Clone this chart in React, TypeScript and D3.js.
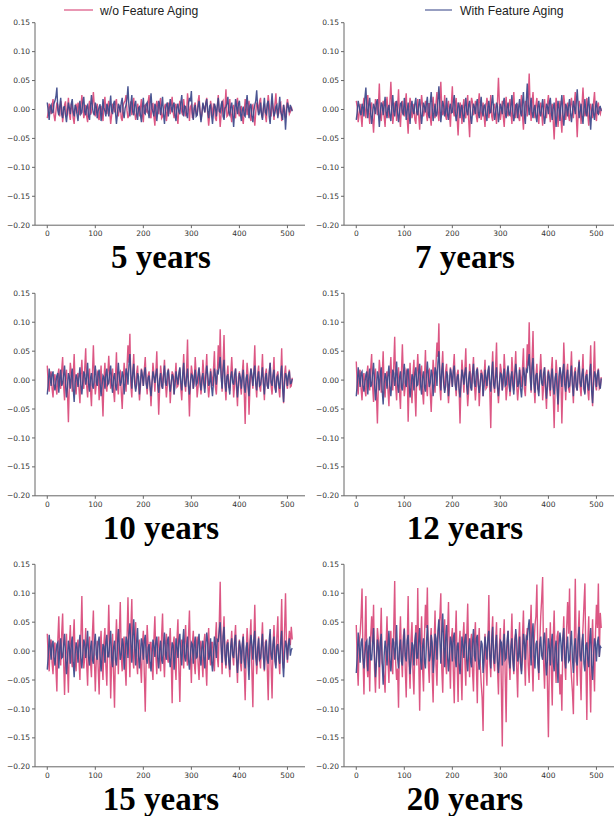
import React from 'react';
import * as d3 from 'd3';

// sample spacing along the x axis (every 2nd step of 0..511)
const STEP = 2;

// values are in thousandths
const noAging5 = [
  -15,-4,10,2,-8,6,18,-10,-20,-3,12,8,-5,-12,15,4,-22,-6,8,14,-12,-2,20,-8,-18,10,5,-15,-25,0,10,-7,
  12,5,-10,3,25,8,-15,-6,8,-12,-22,2,15,-9,-5,10,30,6,-12,-2,10,-14,-18,4,5,-8,-20,9,22,-3,-8,6,
  15,-4,-25,-10,10,5,-5,12,18,-6,-12,3,8,-15,-20,7,12,15,25,-2,-15,-9,5,14,-10,6,20,-5,-18,-8,10,2,
  -12,4,18,-7,-22,6,8,-3,-5,14,25,-10,-15,9,10,-12,-28,2,15,5,-8,12,20,-15,-12,-4,5,10,-20,-6,12,3,
  -8,9,22,-5,-15,6,10,-12,-25,3,15,8,-5,-10,18,2,-12,-4,28,10,-20,5,8,-14,-15,7,12,-6,-10,14,25,-3,
  -18,-6,10,4,-5,12,20,-8,-28,-10,15,3,-12,9,8,-15,-20,6,25,-4,-30,-8,12,15,-15,5,35,-12,-10,2,18,-9,
  -22,3,8,-10,-15,12,20,-6,-12,4,5,-14,-25,-4,18,9,-10,2,15,-12,-20,6,8,-10,-28,-5,12,8,-5,14,20,-7,
  -15,2,10,-9,-22,5,25,8,-8,-12,15,3,-18,10,28,-4,-12,-6,10,12,-20,-3,8,-10,-15,4,18,6,-8,-4,5,-2
];
const withAging5 = [
  12,-3,-18,5,8,-6,-5,10,15,22,38,-2,-10,6,20,-8,-15,4,5,-10,-22,-5,12,3,-8,10,18,-4,-12,8,3,-9,
  -20,2,15,-8,-5,12,22,-4,-10,5,8,-12,-18,6,25,3,-6,-10,12,4,-15,-3,5,9,-20,-7,18,2,-3,-12,10,5,
  -12,6,24,-3,-8,10,15,-5,-25,-8,10,4,-5,12,20,-6,-15,2,8,18,40,5,-12,10,25,-4,-10,8,15,-7,-18,3,
  5,-10,-22,4,20,-6,-8,9,12,-3,-15,10,28,2,-5,-12,10,5,-20,-4,15,8,-10,6,22,-8,-25,-2,8,12,-12,4,
  18,3,-5,8,12,-10,-20,4,10,-4,-8,12,25,-3,-12,6,5,-9,-15,10,20,14,32,-6,-18,2,8,-12,-10,5,15,-4,
  -22,-8,12,3,-5,10,18,-2,-15,6,8,-10,-25,-5,10,4,-12,6,20,-3,-5,8,15,-12,-18,2,5,10,22,-6,-10,4,
  12,-8,-30,-4,18,5,-8,10,15,-6,-20,-2,5,-10,-12,8,25,3,-15,6,10,-12,-22,-3,8,15,33,4,-10,-5,12,-8,
  -18,4,20,-5,-8,10,15,-12,-25,6,28,2,-12,-6,5,8,-15,3,22,-4,-10,-18,8,-2,-35,-6,12,4,-5,8,2,-3
];

const noAging7 = [
  15,4,-22,-8,10,-12,-30,6,20,2,-15,10,25,-5,-25,8,12,-15,-40,-6,18,12,-10,5,45,-8,-20,3,15,-12,-30,6,
  22,-4,-15,12,48,5,-25,-8,10,14,-20,3,35,-10,-30,6,15,-5,-12,10,28,-15,-42,2,20,8,-15,-6,10,-18,-25,4,
  18,-10,-35,2,25,8,-12,-4,15,-8,-20,10,10,-14,-28,5,22,-3,-15,12,30,-6,-20,15,48,4,-10,-5,25,-12,-18,6,
  15,-8,-30,10,40,-4,-12,8,20,-15,-45,-5,12,6,-25,3,18,-10,-15,10,25,-18,-48,2,20,12,-10,-4,15,-12,-22,8,
  28,5,-18,-6,12,-10,-30,4,20,8,-15,-2,25,-12,-20,6,10,-8,-25,14,55,10,-18,-5,15,-12,-30,3,22,-6,-12,8,
  18,-5,-25,10,30,-8,-15,4,10,-14,-20,6,25,-10,-35,-3,15,8,-12,20,62,5,-20,12,30,-6,-15,8,20,-10,-25,5,
  12,-6,-28,4,18,-8,-15,10,25,-5,-22,3,10,-20,-52,-8,20,6,-30,-10,15,-15,-40,2,25,8,-18,-4,12,-12,-20,6,
  20,3,-15,10,30,-10,-48,-5,15,6,-25,8,38,2,-12,-6,20,-10,-28,4,10,-8,-15,12,30,-5,-20,6,12,-4,-8,2
];
const withAging7 = [
  -18,-4,15,6,-5,-10,10,4,-12,20,38,2,-15,8,20,-6,-25,-8,10,3,-8,12,18,-5,-30,-4,12,8,-10,5,22,-3,
  -15,2,8,-10,-20,5,25,-3,-12,8,15,-6,-22,-4,10,12,-5,-10,20,4,-18,-2,12,-8,-25,6,15,-3,-8,10,20,-5,
  -10,8,18,-4,-25,-6,12,5,-5,10,22,-8,-15,12,30,3,-20,-5,10,-12,-8,15,40,8,-22,-3,15,6,-12,-4,20,-8,
  -18,2,10,-6,-5,12,25,-4,-20,-8,12,6,-15,3,8,-10,-22,5,20,-3,-10,8,15,-12,-25,-5,10,4,-8,10,18,-6,
  -15,5,22,-3,-12,6,8,-10,-20,4,15,-6,-5,12,25,-2,-18,-6,12,5,-22,-8,10,3,-8,12,20,-5,-15,4,12,-8,
  -10,6,25,-4,-20,-8,8,10,-15,3,18,-5,-12,12,30,-10,-25,15,45,8,-10,5,20,-6,-15,2,8,-12,-22,4,15,-5,
  -12,4,18,-6,-25,-10,10,5,-8,12,20,-4,-18,3,12,-10,-30,-6,15,2,-20,8,25,-5,-28,-8,10,4,-12,6,18,-5,
  -22,-5,15,4,-8,12,35,6,-15,-3,10,-12,-25,2,18,-6,-12,8,22,-10,-35,-4,10,-8,-18,5,15,-6,-8,4,5,-3
];

const noAging10 = [
  25,-8,-20,10,15,-15,-30,4,10,-12,-25,8,20,-5,-15,18,40,-10,-35,6,18,-20,-73,-5,30,12,-20,5,45,-10,-25,8,
  12,-15,-40,8,35,-5,-15,20,55,-10,-30,6,20,-18,-45,10,60,5,-25,-8,15,12,-35,-4,25,-20,-63,2,30,-12,-20,10,
  42,6,-15,10,20,-18,-38,4,48,-8,-25,12,15,-20,-50,-6,30,8,-20,22,60,30,80,-10,-30,15,45,-5,-15,12,25,-8,
  -35,-10,20,5,-10,18,40,-4,-25,8,15,-12,-45,-6,30,10,-20,12,50,-8,-60,-15,25,6,-15,10,35,-5,-30,-8,20,4,
  -40,-8,15,10,-25,5,30,-12,-10,8,20,-15,-35,6,45,-4,-20,18,70,-10,-63,-8,25,12,-15,-5,40,10,-30,-12,20,6,
  -25,-6,35,10,-15,12,45,-8,-30,-10,20,5,-10,18,50,-12,-25,8,60,20,88,15,-20,30,78,-8,-35,6,25,-12,-15,10,
  40,6,-30,-8,20,-15,-45,5,15,-10,-25,12,35,-20,-76,-6,30,8,-60,-12,20,5,-15,15,60,-5,-30,10,25,-12,-20,8,
  45,-5,-35,10,20,-8,-15,12,30,-10,-25,6,40,-12,-20,8,15,-15,-30,5,55,-8,-40,10,25,-6,-15,8,18,-12,-10,4
];
const withAging10 = [
  -25,-6,20,4,-10,10,15,-8,-18,-4,8,12,-22,2,18,-10,-5,8,25,-6,-30,-12,12,5,-15,8,20,-15,-38,-5,10,3,
  -12,6,22,-8,-25,-4,15,10,-8,5,30,-6,-20,3,12,-10,-15,8,25,-4,-10,12,18,-6,-28,-10,8,5,-15,10,20,-8,
  -5,12,25,-8,-22,4,12,-10,-18,6,30,5,-10,-4,15,8,-25,-6,20,12,-8,25,45,10,-15,12,28,-5,-20,-8,12,6,
  -25,-4,18,8,-10,12,22,-6,-15,4,8,-12,-28,-5,15,6,-5,10,20,-8,-22,2,12,-10,-15,8,25,-4,-10,12,18,-6,
  -20,-5,10,6,-25,-8,15,4,-8,12,22,-4,-18,10,30,-6,-12,5,20,-10,-25,-4,10,8,-15,6,18,-8,-5,10,22,-6,
  -18,4,12,-8,-22,6,25,10,-10,-5,15,-12,-28,-4,20,8,-8,15,12,25,40,5,-15,18,35,-4,-20,6,10,-12,-25,5,
  15,-4,-8,10,20,-6,-30,-8,12,4,-15,6,18,-10,-22,3,10,-12,-28,5,20,8,-10,12,25,-6,-18,4,15,-10,-8,6,
  22,-6,-25,4,12,-10,-15,12,30,-4,-10,8,18,-12,-22,5,8,-8,-15,10,25,-15,-38,-4,12,6,-10,8,15,-6,-5,2
];

const noAging12 = [
  32,-10,-25,12,18,-15,-35,6,12,-18,-28,10,25,-8,-18,20,45,-12,-38,8,20,-25,-75,-6,35,15,-22,8,50,-12,-30,10,
  15,-18,-45,10,40,-6,-18,25,75,-10,-35,8,22,-20,-50,12,62,5,-28,-10,18,15,-72,-8,30,-15,-40,10,35,-20,-63,6,
  45,8,-18,12,25,-20,-42,5,52,-10,-28,15,18,-22,-55,-8,35,10,-22,28,65,40,98,-12,-35,18,50,-6,-18,15,28,-10,
  -40,-12,22,6,-12,20,45,-5,-28,10,18,-15,-75,-8,35,12,-22,15,55,-10,-45,-18,28,8,-18,12,40,-6,-35,-10,22,5,
  -45,-10,18,12,-28,6,35,-15,-12,10,22,-20,-83,8,50,-5,-22,22,65,-12,-40,-10,28,15,-18,-6,45,12,-35,-15,22,8,
  -28,-8,40,12,-18,15,50,-10,-35,-12,22,6,-12,20,55,-15,-28,10,62,25,100,18,-22,35,85,-10,-40,8,28,-15,-18,12,
  45,8,-35,-10,22,-18,-50,6,18,-12,-28,15,40,-25,-83,-8,35,10,-55,-15,22,6,-75,-10,65,20,-35,12,28,-15,-22,10,
  50,-6,-40,12,22,-10,-18,15,35,-12,-28,8,45,-15,-22,10,18,-18,-35,6,60,-10,-45,15,67,-8,-18,10,20,-15,-12,5
];
const withAging12 = [
  -28,-6,22,5,-12,12,15,-10,-20,-4,10,15,-25,3,20,-12,-8,10,30,-6,-35,-14,15,6,-18,10,22,-18,-42,-6,12,4,
  -15,8,25,-10,-28,-5,18,12,-10,6,32,-8,-22,4,15,-12,-18,10,28,-5,-12,15,20,-8,-30,-12,10,6,-18,12,22,-10,
  -8,14,28,-10,-25,5,15,-12,-20,8,32,6,-12,-5,18,10,-28,-8,22,15,-10,30,50,12,-18,15,30,-6,-22,-10,15,8,
  -28,-5,20,10,-12,15,25,-8,-18,5,10,-15,-30,-6,18,8,-8,12,22,-10,-25,3,15,-12,-18,10,28,-5,-12,15,20,-8,
  -22,-6,12,8,-28,-10,18,5,-10,15,25,-5,-20,12,32,-8,-15,6,22,-12,-28,-5,12,10,-18,8,20,-10,-8,12,25,-8,
  -20,5,15,-10,-25,8,28,12,-12,-6,18,-15,-30,-5,22,10,-10,18,15,30,45,6,-18,22,38,-5,-22,8,12,-15,-28,6,
  18,-5,-10,12,22,-8,-32,-10,15,5,-18,8,20,-12,-25,4,12,-15,-42,6,22,10,-12,15,28,-8,-20,5,18,-12,-10,8,
  25,-8,-28,5,15,-12,-18,15,32,-5,-12,10,20,-15,-25,6,10,-10,-18,12,28,-18,-40,-5,15,8,-12,10,18,-8,-15,3
];

const noAging15 = [
  30,-10,-35,15,20,-20,-40,8,15,-30,-70,20,60,-5,-25,30,65,-15,-76,-8,30,-25,-72,10,45,-12,-28,20,55,-15,-35,10,
  20,-18,-50,25,95,5,-30,-10,40,-22,-60,8,25,-20,-45,30,70,-10,-70,-15,18,-30,-75,6,35,-20,-50,15,40,-25,-60,12,
  80,10,-82,-20,30,-40,-98,5,55,12,-40,30,85,-10,-35,15,25,-25,-60,20,93,8,-45,40,90,-12,-30,20,50,-18,-40,10,
  20,-22,-55,10,35,-40,-105,-10,45,8,-30,15,15,-25,-50,20,60,-8,-40,12,25,-15,-35,25,65,-10,-45,8,30,-12,-20,10,
  40,-15,-90,10,25,-20,-50,20,55,-30,-88,-5,20,10,-30,15,45,-10,-25,25,70,-8,-55,12,35,-20,-40,10,25,-22,-50,8,
  18,-15,-45,12,30,-25,-60,10,40,-8,-25,15,15,-20,-35,20,50,-10,-28,45,120,10,-40,25,60,-12,-30,15,20,-20,-45,8,
  35,-8,-25,20,45,-15,-55,5,20,-20,-35,12,30,-30,-85,-10,40,10,-28,20,55,-35,-97,15,80,8,-40,-10,25,-15,-30,12,
  50,-10,-35,15,20,-30,-85,5,30,-25,-82,10,45,-8,-25,25,60,-15,-40,20,90,-5,-30,35,100,10,-20,12,35,10,42,20
];
const withAging15 = [
  -32,-8,28,6,-15,12,18,-10,-25,-5,12,15,-30,4,22,-12,-10,10,30,-8,-40,-15,18,6,-22,12,25,-20,-45,-6,15,5,
  -20,8,28,-12,-30,-5,20,12,-12,8,35,-10,-25,5,18,-15,-22,12,30,-6,-15,15,25,-10,-35,-12,12,8,-20,15,28,-10,
  -10,15,35,-12,-28,6,18,-15,-25,10,38,8,-15,-6,22,12,-32,-10,25,18,-12,30,48,15,-20,25,55,10,-25,15,40,-8,
  -30,-6,22,12,-15,18,28,-10,-22,6,12,-18,-35,-8,20,10,-10,15,25,-12,-30,4,18,-15,-22,12,32,-6,-15,18,25,-10,
  -28,-8,15,10,-32,-12,22,6,-12,18,30,-6,-25,15,38,-10,-18,8,25,-15,-32,-6,15,12,-22,10,25,-12,-10,15,30,-10,
  -25,6,18,-12,-30,10,32,15,-15,-8,22,-18,-35,-6,25,12,-12,20,18,35,50,8,-20,25,42,-6,-25,10,15,-18,-32,8,
  22,-6,-12,15,28,-10,-38,-12,18,6,-22,10,25,-15,-30,5,15,-18,-50,8,28,12,-15,18,35,-10,-25,6,22,-15,-12,10,
  30,-10,-32,6,18,-15,-22,18,38,-6,-15,12,25,-18,-30,8,12,-12,-22,15,35,-20,-45,-6,18,10,-15,12,22,-8,2,5
];

const noAging20 = [
  45,-20,-60,15,30,60,108,-10,-75,20,95,-25,-45,10,-70,25,60,15,80,-30,-72,-10,40,20,-65,15,75,-20,-30,-45,-72,10,
  60,-15,-55,20,35,-25,-40,40,121,-20,-50,-30,-98,15,60,-10,-45,25,40,-30,-80,10,95,-20,-65,20,50,-35,-75,5,45,-25,
  109,-15,-103,10,60,-30,-70,25,80,40,110,-20,-55,15,40,-40,-89,10,70,-25,-60,20,45,60,100,-30,-72,10,55,-20,-40,30,
  85,-10,-65,20,40,-35,-90,15,70,-20,-88,10,35,-30,-85,20,50,-15,-60,25,82,-10,-45,15,30,-35,-70,20,50,-25,-90,10,
  40,-20,-55,-80,-138,-10,30,-25,-60,20,97,-15,-45,25,60,-20,-35,15,50,-30,-75,10,40,-60,-165,15,55,-40,-123,5,35,-15,
  -50,10,65,-15,-40,20,30,-30,-80,15,50,-20,-35,25,70,-10,-60,20,40,-25,-55,30,80,-15,-70,10,45,60,115,-10,-50,15,
  60,90,128,-20,-65,10,40,-60,-149,-15,50,-30,-94,20,70,-15,-55,25,35,-30,-75,-40,-103,15,60,-20,-50,40,85,30,108,-10,
  -45,-70,-109,20,125,-15,-60,25,70,-30,-85,10,40,80,117,-20,-119,15,60,-40,-106,10,55,-20,-70,30,80,40,117,-10,66,40
];
const withAging20 = [
  -38,-10,32,8,-20,15,22,-12,-30,-6,15,18,-35,5,25,-15,-15,12,40,-10,-45,-18,20,8,-28,15,30,-22,-58,-8,18,6,
  -25,10,35,-15,-35,-6,22,15,-15,8,45,-12,-30,6,20,-18,-25,15,38,-8,-18,18,28,-12,-40,-15,15,10,-25,18,32,-12,
  -12,18,40,-15,-32,8,22,-18,-30,12,45,10,-18,-8,28,15,-38,-12,30,22,-15,35,55,18,-22,30,65,12,-28,20,45,-10,
  -35,-8,25,15,-18,22,32,-12,-28,8,15,-22,-40,-10,25,12,-12,18,30,-15,-35,5,22,-18,-28,15,38,-8,-18,22,28,-12,
  -32,-10,18,12,-38,-15,25,8,-15,22,35,-8,-30,18,42,-12,-22,10,28,-18,-38,-8,18,15,-25,12,30,-15,-12,18,35,-12,
  -30,8,22,-15,-35,12,38,18,-18,-10,25,-22,-40,-8,30,15,-15,25,22,40,55,10,-25,30,48,-8,-30,12,18,-22,-38,10,
  25,-8,-15,18,32,-12,-42,-15,22,8,-25,12,30,-18,-35,6,18,-22,-55,10,32,15,-18,22,40,-12,-30,8,25,-18,-15,12,
  35,-12,-38,8,22,-18,-25,22,42,-8,-18,15,30,-22,-35,10,15,-15,-28,18,40,-25,-50,-8,22,12,-18,15,25,-10,8,5
];

const titles = ['5 years', '7 years', '10 years', '12 years', '15 years', '20 years'];
const noAgingSets = [noAging5, noAging7, noAging10, noAging12, noAging15, noAging20];
const withAgingSets = [withAging5, withAging7, withAging10, withAging12, withAging15, withAging20];
const seriesNames = ['w/o Feature Aging', 'With Feature Aging'];
const yTicks = [0.15, 0.10, 0.05, 0.00, -0.05, -0.10, -0.15, -0.20];
const xTicks = [0, 100, 200, 300, 400, 500];

const PINK = '#d6396f';
const NAVY = '#3b4789';

// grid geometry
const colLeft = [35, 344];
const rowTop = [22.7, 293.3, 564.3];
const plotW = 270;
const plotH = 202.5;
const titleCx = [161, 465];
const titleDy = 245.5;

function Panel({ idx }: { idx: number }) {
  const col = idx % 2;
  const row = Math.floor(idx / 2);
  const left = colLeft[col];
  const top = rowTop[row];

  const x = d3.scaleLinear().domain([-25.55, 536.55]).range([left, left + plotW]);
  const y = d3.scaleLinear().domain([-0.2, 0.15]).range([top + plotH, top]);

  const line = d3.line<number>()
    .x((d, i) => x(i * STEP))
    .y(d => y(d / 1000));

  const bottom = top + plotH;
  const fmt = (v: number) => d3.format('.2f')(v).replace('-', '\u2212');

  return (
    <g>
      <path d={line(noAgingSets[idx]) || ''} fill="none" stroke={PINK} strokeOpacity={0.85} strokeWidth={1.4} />
      <path d={line(withAgingSets[idx]) || ''} fill="none" stroke={NAVY} strokeOpacity={0.92} strokeWidth={1.4} />

      {/* spines */}
      <line x1={left} x2={left} y1={top} y2={bottom} stroke="#666" strokeWidth={1} />
      <line x1={left} x2={left + plotW} y1={bottom} y2={bottom} stroke="#666" strokeWidth={1} />

      {yTicks.map(t => (
        <g key={'y' + t}>
          <line x1={left - 3} x2={left} y1={y(t)} y2={y(t)} stroke="#666" />
          <text x={left - 5} y={y(t)} dy="0.35em" textAnchor="end" fontSize={7.5}
            fontFamily="DejaVu Sans" fill="#333">{fmt(t)}</text>
        </g>
      ))}
      {xTicks.map(t => (
        <g key={'x' + t}>
          <line x1={x(t)} x2={x(t)} y1={bottom} y2={bottom + 3} stroke="#666" />
          <text x={x(t)} y={bottom + 11} textAnchor="middle" fontSize={7.5}
            fontFamily="DejaVu Sans" fill="#333">{t}</text>
        </g>
      ))}

      <text x={titleCx[col]} y={top + titleDy} textAnchor="middle" fontSize={33}
        fontWeight="bold" fontFamily="Liberation Serif, Times New Roman, serif" fill="#000">
        {titles[idx]}
      </text>
    </g>
  );
}

export default function App() {
  const legend = [
    { name: seriesNames[0], color: PINK, x1: 64, x2: 93, tx: 100 },
    { name: seriesNames[1], color: NAVY, x1: 425, x2: 452, tx: 460 }
  ];
  return (
    <svg width={614} height={816} style={{ position: 'absolute', left: 0, top: 0 }}>
      <rect width={614} height={816} fill="#fff" />
      {legend.map(l => (
        <g key={l.name}>
          <line x1={l.x1} x2={l.x2} y1={10} y2={10} stroke={l.color} strokeOpacity={0.7} strokeWidth={1.5} />
          <text x={l.tx} y={14.5} fontSize={12.2} fontFamily="Liberation Sans, Arial, sans-serif" fill="#222">{l.name}</text>
        </g>
      ))}
      {titles.map((t, i) => <Panel key={t} idx={i} />)}
    </svg>
  );
}
